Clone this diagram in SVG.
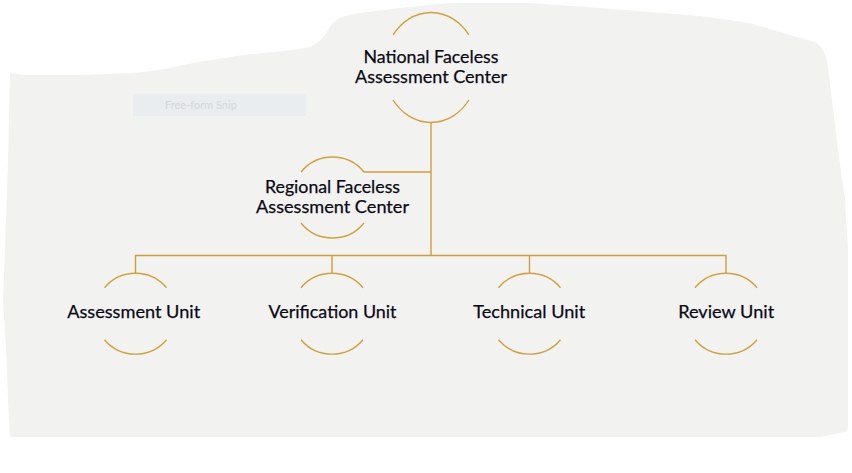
<svg xmlns="http://www.w3.org/2000/svg" width="852" height="473" viewBox="0 0 852 473">
<style>
.arc{fill:none;stroke:#d4a03c;stroke-width:1.4}
.con{fill:none;stroke:#cf9f3e;stroke-width:1.4}
.lbl{font-family:Lato,"Open Sans","Liberation Sans",sans-serif;font-size:18px;fill:#0a0a14;stroke:#0a0a14;stroke-width:0.25;text-anchor:middle}
</style>
<rect width="852" height="473" fill="#ffffff"/>
<path d="M10,73 L25,75 L80,75 L135,73 L160,70 L193,63 L243,55 L293,50 L310,47 Q322,42 330,27 Q336,18 345,16 L360,13 L400,8 L450,3 L530,3 L600,8 L700,16 L750,23 L800,38 L815,42 Q822,45 827,60 L832,100 L838,150 L845,200 L848,250 L848,420 Q849,430 845,432 L830,435 L820,437 L10,437 L8,400 L6,347 L3,300 L5,250 L8,160 Z" fill="#f2f2f0"/>
<rect x="133" y="94" width="173" height="22" fill="#e9edf0"/>
<text x="165" y="109" font-family="Lato,'Open Sans','Liberation Sans',sans-serif" font-size="11" fill="#d6d6d6">Free-form Snip</text>
<g id="connectors">
<path class="con" d="M431,122.5 V256"/>
<path class="con" d="M363.5,172 H431"/>
<path class="con" d="M135.5,273 V255.5 H726 V273"/>
<path class="con" d="M332,255.5 V273"/>
<path class="con" d="M529.5,255.5 V273"/>
</g>
<g id="national">
<path class="arc" d="M393.1,35 A47,55 0 0 1 468.9,35"/>
<path class="arc" d="M393.1,100 A47,55 0 0 0 468.9,100"/>
<text class="lbl" x="431" y="63.3" textLength="135" lengthAdjust="spacingAndGlyphs">National Faceless</text>
<text class="lbl" x="431" y="83.3" textLength="152" lengthAdjust="spacingAndGlyphs">Assessment Center</text>
</g>
<g id="regional">
<path class="arc" d="M301,172 A40.5,40.5 0 0 1 364,172"/>
<path class="arc" d="M301,223 A40.5,40.5 0 0 0 364,223"/>
<text class="lbl" x="332.5" y="193.3" textLength="135" lengthAdjust="spacingAndGlyphs">Regional Faceless</text>
<text class="lbl" x="332.5" y="213.3" textLength="153" lengthAdjust="spacingAndGlyphs">Assessment Center</text>
</g>
<g id="assessment">
<path class="arc" d="M104.5,287.7 A40.5,40.5 0 0 1 166.5,287.7"/>
<path class="arc" d="M104.5,339.7 A40.5,40.5 0 0 0 166.5,339.7"/>
<text class="lbl" x="133.7" y="318.3" textLength="133" lengthAdjust="spacingAndGlyphs">Assessment Unit</text>
</g>
<g id="verification">
<path class="arc" d="M301,287.7 A40.5,40.5 0 0 1 363,287.7"/>
<path class="arc" d="M301,339.7 A40.5,40.5 0 0 0 363,339.7"/>
<text class="lbl" x="332.5" y="318.3" textLength="128" lengthAdjust="spacingAndGlyphs">Verification Unit</text>
</g>
<g id="technical">
<path class="arc" d="M498.5,287.7 A40.5,40.5 0 0 1 560.5,287.7"/>
<path class="arc" d="M498.5,339.7 A40.5,40.5 0 0 0 560.5,339.7"/>
<text class="lbl" x="529.2" y="318.3" textLength="112" lengthAdjust="spacingAndGlyphs">Technical Unit</text>
</g>
<g id="review">
<path class="arc" d="M695,287.7 A40.5,40.5 0 0 1 757,287.7"/>
<path class="arc" d="M695,339.7 A40.5,40.5 0 0 0 757,339.7"/>
<text class="lbl" x="726.2" y="318.3" textLength="96" lengthAdjust="spacingAndGlyphs">Review Unit</text>
</g>
</svg>
